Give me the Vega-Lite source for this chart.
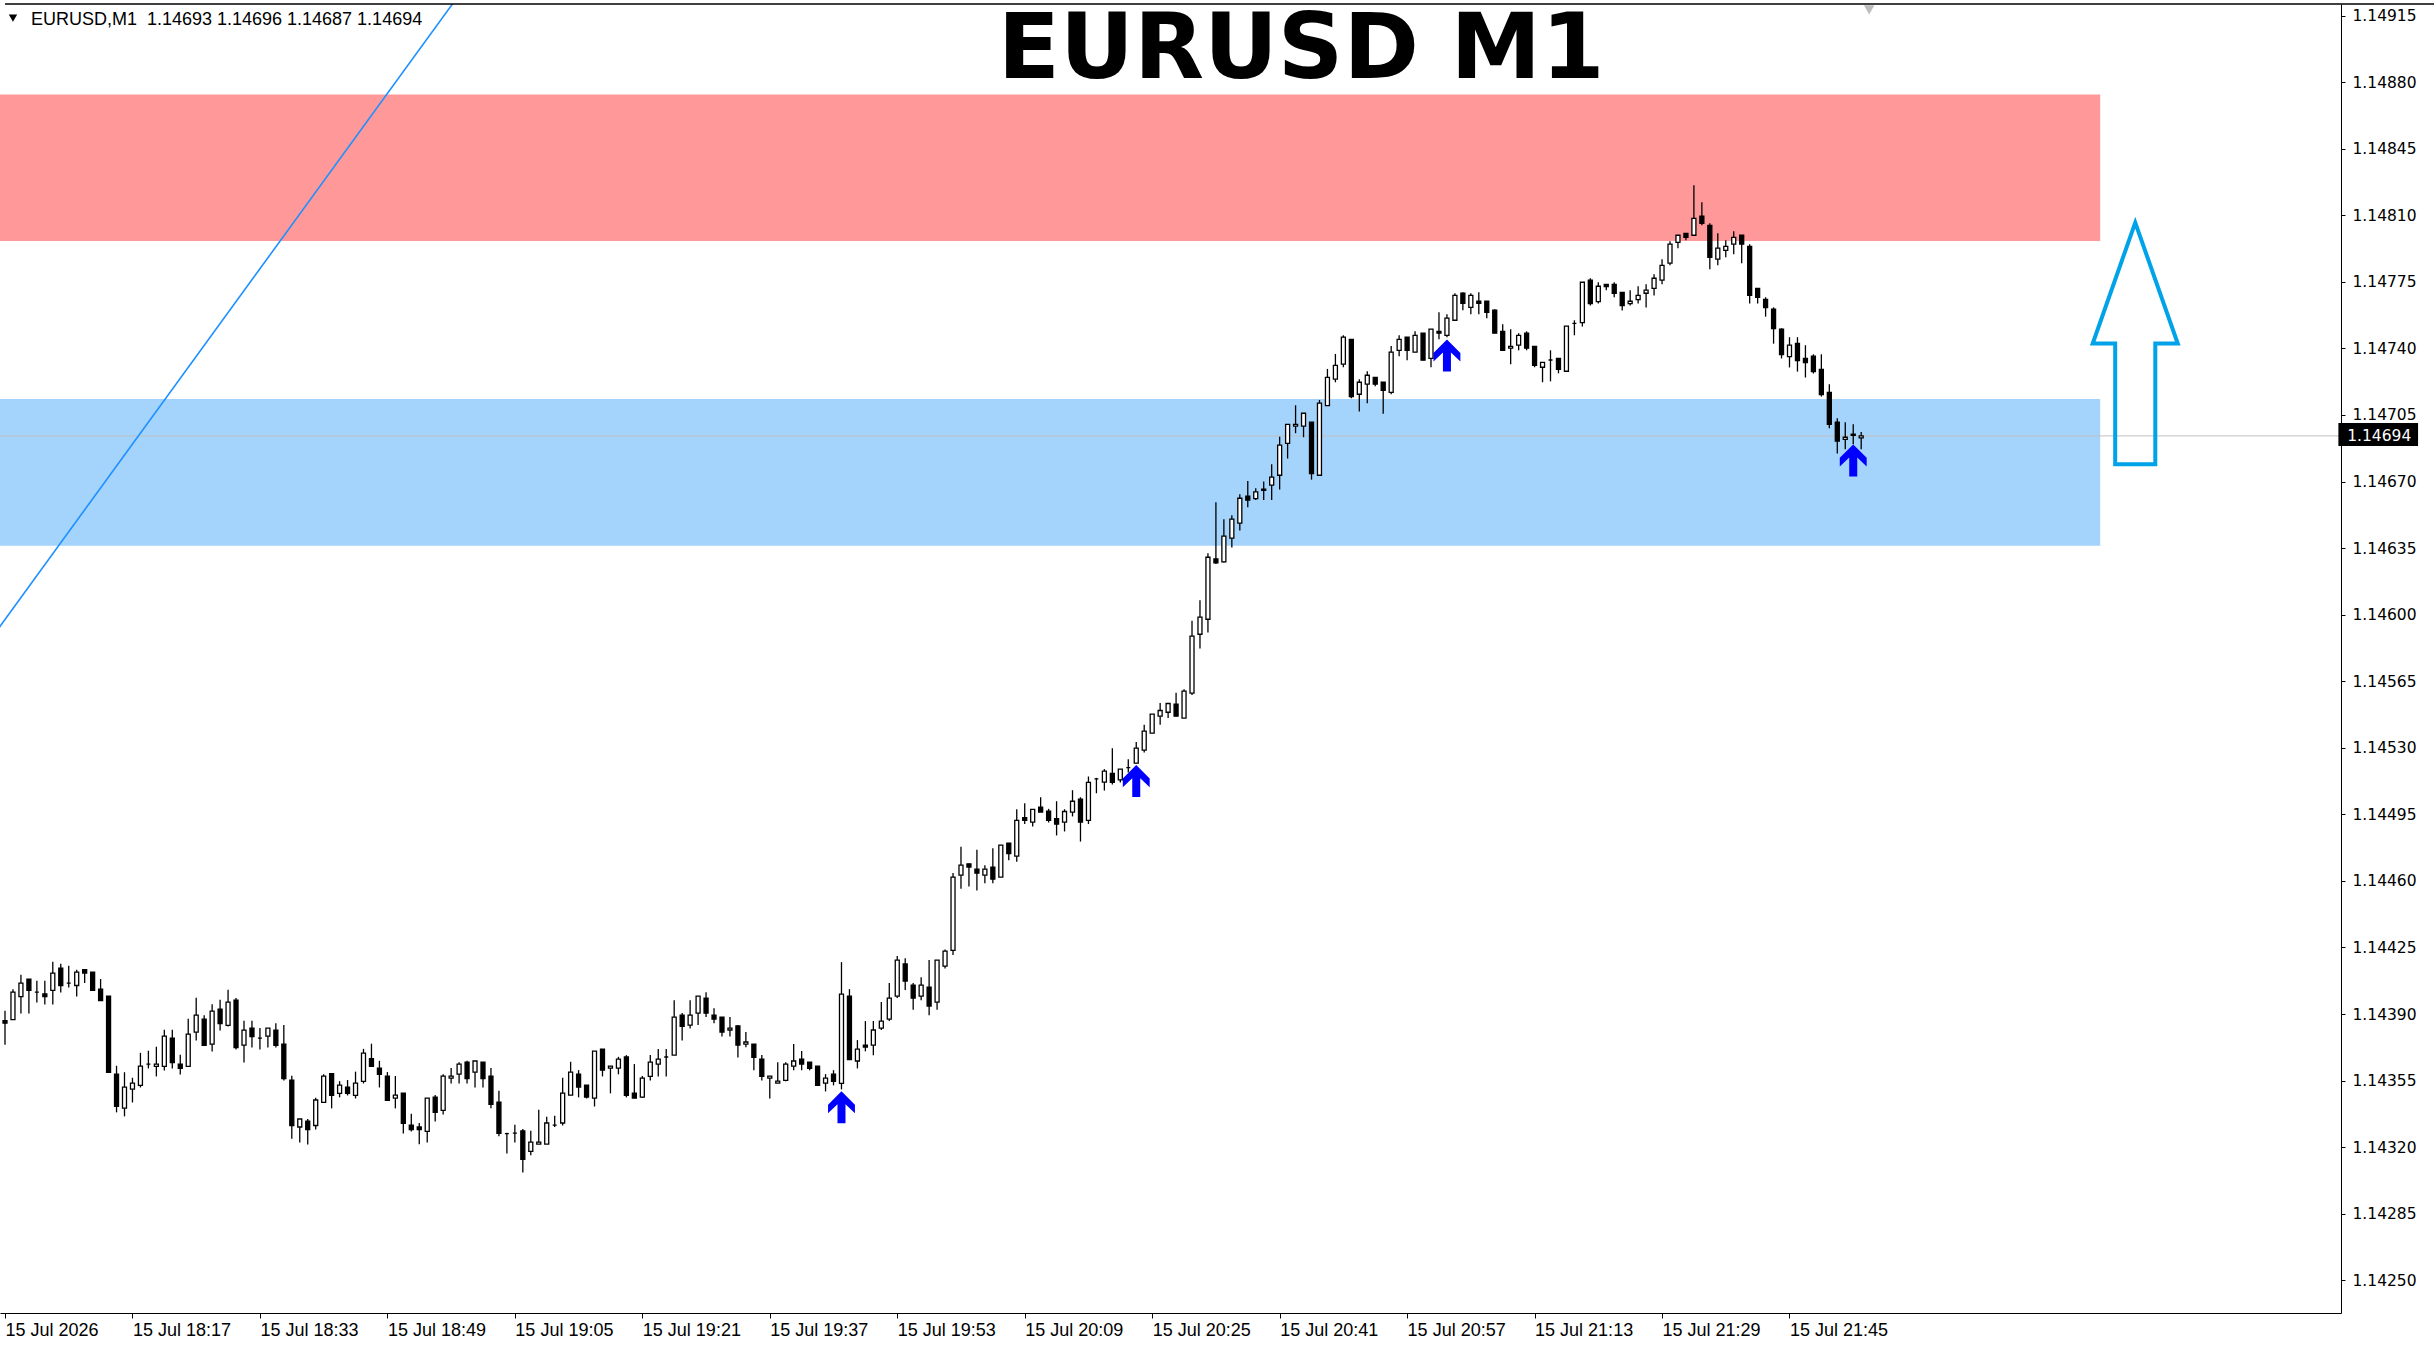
{
  "$schema": "https://vega.github.io/schema/vega-lite/v6.json",
  "width": 2341,
  "height": 1309,
  "autosize": "none",
  "padding": {"left": 0, "top": 4, "right": 93, "bottom": 33},
  "background": "white",
  "datasets": {
    "zones": [
      {"zone": "supply", "t1": 1070, "t2": 1344, "p1": 1.147965, "p2": 1.148735},
      {"zone": "demand", "t1": 1070, "t2": 1344, "p1": 1.146363, "p2": 1.147134}
    ],
    "lastprice": [{"p": 1.14694}],
    "trend": [
      {"t": 1076, "p": 1.145687},
      {"t": 1141, "p": 1.149432}
    ],
    "signals": [
      {"t": 1186, "p": 1.14341},
      {"t": 1223, "p": 1.145125},
      {"t": 1262, "p": 1.147363},
      {"t": 1313, "p": 1.146811}
    ],
    "target": [{"t": 1348.4, "p": 1.147426}],
    "tag": [{"t1": 1373.9, "t2": 1383.9, "p1": 1.146887, "p2": 1.147008, "tx": 1375, "p": 1.14694, "label": "1.14694"}],
    "info": [{"t": 1084.25, "p": 1.149127, "label": "EURUSD,M1\u00a0 1.14693 1.14696 1.14687 1.14694"}],
    "heading": [{"t": 1243.7, "p": 1.148822, "label": "EURUSD M1"}],
    "menu": [{"t": 1082, "p": 1.149137}],
    "shift": [{"t": 1315, "p": 1.14918}],
    "candles": [
      {"t":1081,"o":1.143865,"h":1.143917,"l":1.143738,"c":1.143852},
      {"t":1082,"o":1.143871,"h":1.144031,"l":1.143871,"c":1.144015},
      {"t":1083,"o":1.143992,"h":1.144106,"l":1.143903,"c":1.144063},
      {"t":1084,"o":1.144084,"h":1.144084,"l":1.143903,"c":1.144024},
      {"t":1085,"o":1.144015,"h":1.144075,"l":1.143961,"c":1.144015},
      {"t":1086,"o":1.144006,"h":1.144075,"l":1.14395,"c":1.143992},
      {"t":1087,"o":1.144024,"h":1.144175,"l":1.14395,"c":1.144115},
      {"t":1088,"o":1.144141,"h":1.144164,"l":1.144013,"c":1.14405},
      {"t":1089,"o":1.144063,"h":1.144154,"l":1.14404,"c":1.144063},
      {"t":1090,"o":1.14405,"h":1.144133,"l":1.143992,"c":1.14412},
      {"t":1091,"o":1.144133,"h":1.144133,"l":1.144063,"c":1.144115},
      {"t":1092,"o":1.14412,"h":1.14412,"l":1.144024,"c":1.144024},
      {"t":1093,"o":1.144031,"h":1.144084,"l":1.143971,"c":1.143971},
      {"t":1094,"o":1.143994,"h":1.143994,"l":1.143593,"c":1.143593},
      {"t":1095,"o":1.143584,"h":1.143628,"l":1.143383,"c":1.143414},
      {"t":1096,"o":1.143405,"h":1.143594,"l":1.143362,"c":1.143516},
      {"t":1097,"o":1.143505,"h":1.143565,"l":1.143435,"c":1.143537},
      {"t":1098,"o":1.143525,"h":1.143696,"l":1.143514,"c":1.143626},
      {"t":1099,"o":1.143637,"h":1.143707,"l":1.143614,"c":1.143637},
      {"t":1100,"o":1.143625,"h":1.143728,"l":1.143572,"c":1.143637},
      {"t":1101,"o":1.143625,"h":1.143817,"l":1.143603,"c":1.143784},
      {"t":1102,"o":1.143773,"h":1.143817,"l":1.143614,"c":1.143645},
      {"t":1103,"o":1.143637,"h":1.143686,"l":1.143582,"c":1.143614},
      {"t":1104,"o":1.143625,"h":1.143875,"l":1.143625,"c":1.143794},
      {"t":1105,"o":1.143805,"h":1.143985,"l":1.143761,"c":1.143894},
      {"t":1106,"o":1.143873,"h":1.143894,"l":1.143735,"c":1.143735},
      {"t":1107,"o":1.143742,"h":1.143952,"l":1.143703,"c":1.143915},
      {"t":1108,"o":1.143926,"h":1.143975,"l":1.143814,"c":1.14385},
      {"t":1109,"o":1.14384,"h":1.144028,"l":1.143835,"c":1.143963},
      {"t":1110,"o":1.143973,"h":1.143984,"l":1.143714,"c":1.143724},
      {"t":1111,"o":1.143737,"h":1.143865,"l":1.143645,"c":1.143815},
      {"t":1112,"o":1.143826,"h":1.143865,"l":1.143724,"c":1.143782},
      {"t":1113,"o":1.143773,"h":1.143826,"l":1.143714,"c":1.143773},
      {"t":1114,"o":1.143784,"h":1.143826,"l":1.143724,"c":1.143826},
      {"t":1115,"o":1.143815,"h":1.143852,"l":1.143724,"c":1.143735},
      {"t":1116,"o":1.143742,"h":1.143842,"l":1.143551,"c":1.143561},
      {"t":1117,"o":1.143553,"h":1.143575,"l":1.143244,"c":1.143314},
      {"t":1118,"o":1.143306,"h":1.143348,"l":1.143225,"c":1.143348},
      {"t":1119,"o":1.143337,"h":1.143348,"l":1.143214,"c":1.143293},
      {"t":1120,"o":1.143314,"h":1.14346,"l":1.143293,"c":1.143448},
      {"t":1121,"o":1.143435,"h":1.143584,"l":1.143435,"c":1.143574},
      {"t":1122,"o":1.143586,"h":1.143586,"l":1.143404,"c":1.143472},
      {"t":1123,"o":1.143483,"h":1.143547,"l":1.143462,"c":1.143526},
      {"t":1124,"o":1.143516,"h":1.143553,"l":1.143472,"c":1.143483},
      {"t":1125,"o":1.143472,"h":1.143597,"l":1.143456,"c":1.143537},
      {"t":1126,"o":1.143546,"h":1.143717,"l":1.143535,"c":1.143695},
      {"t":1127,"o":1.143665,"h":1.143744,"l":1.143625,"c":1.143625},
      {"t":1128,"o":1.143616,"h":1.143654,"l":1.143514,"c":1.143583},
      {"t":1129,"o":1.143574,"h":1.143595,"l":1.143446,"c":1.143446},
      {"t":1130,"o":1.143458,"h":1.143574,"l":1.143404,"c":1.143474},
      {"t":1131,"o":1.143484,"h":1.143484,"l":1.143272,"c":1.143325},
      {"t":1132,"o":1.143316,"h":1.143376,"l":1.143283,"c":1.143293},
      {"t":1133,"o":1.143306,"h":1.143327,"l":1.143215,"c":1.143293},
      {"t":1134,"o":1.143283,"h":1.143458,"l":1.143225,"c":1.143458},
      {"t":1135,"o":1.143463,"h":1.143474,"l":1.143335,"c":1.143383},
      {"t":1136,"o":1.143393,"h":1.143584,"l":1.143372,"c":1.143574},
      {"t":1137,"o":1.143563,"h":1.143616,"l":1.143535,"c":1.143574},
      {"t":1138,"o":1.143584,"h":1.143647,"l":1.143535,"c":1.143637},
      {"t":1139,"o":1.143647,"h":1.143654,"l":1.143535,"c":1.143561},
      {"t":1140,"o":1.143595,"h":1.143653,"l":1.143514,"c":1.143653},
      {"t":1141,"o":1.143647,"h":1.143647,"l":1.143514,"c":1.143561},
      {"t":1142,"o":1.143574,"h":1.143616,"l":1.143404,"c":1.143425},
      {"t":1143,"o":1.143437,"h":1.143497,"l":1.143257,"c":1.143272},
      {"t":1144,"o":1.143271,"h":1.143276,"l":1.143167,"c":1.143271},
      {"t":1145,"o":1.143274,"h":1.143318,"l":1.143225,"c":1.143274},
      {"t":1146,"o":1.143285,"h":1.143295,"l":1.143067,"c":1.143136},
      {"t":1147,"o":1.143178,"h":1.143286,"l":1.143157,"c":1.143227},
      {"t":1148,"o":1.143216,"h":1.143397,"l":1.143216,"c":1.143227},
      {"t":1149,"o":1.143216,"h":1.14336,"l":1.143216,"c":1.143327},
      {"t":1150,"o":1.143316,"h":1.143365,"l":1.143306,"c":1.143316},
      {"t":1151,"o":1.143327,"h":1.143565,"l":1.143314,"c":1.143484},
      {"t":1152,"o":1.143474,"h":1.143649,"l":1.143474,"c":1.143595},
      {"t":1153,"o":1.143584,"h":1.143605,"l":1.143462,"c":1.143516},
      {"t":1154,"o":1.143526,"h":1.143526,"l":1.143456,"c":1.143463},
      {"t":1155,"o":1.143458,"h":1.143705,"l":1.143414,"c":1.143705},
      {"t":1156,"o":1.143716,"h":1.143716,"l":1.143572,"c":1.143605},
      {"t":1157,"o":1.143616,"h":1.143626,"l":1.143483,"c":1.143626},
      {"t":1158,"o":1.143616,"h":1.143675,"l":1.143583,"c":1.143663},
      {"t":1159,"o":1.143674,"h":1.143684,"l":1.143462,"c":1.143472},
      {"t":1160,"o":1.143484,"h":1.143637,"l":1.143458,"c":1.143458},
      {"t":1161,"o":1.143463,"h":1.143574,"l":1.143458,"c":1.143563},
      {"t":1162,"o":1.143572,"h":1.143684,"l":1.143551,"c":1.143647},
      {"t":1163,"o":1.143637,"h":1.143716,"l":1.143572,"c":1.143663},
      {"t":1164,"o":1.143674,"h":1.143716,"l":1.143572,"c":1.143674},
      {"t":1165,"o":1.143684,"h":1.143973,"l":1.143684,"c":1.143884},
      {"t":1166,"o":1.143894,"h":1.143905,"l":1.143761,"c":1.143835},
      {"t":1167,"o":1.143842,"h":1.143973,"l":1.143824,"c":1.143894},
      {"t":1168,"o":1.143905,"h":1.143994,"l":1.143842,"c":1.143994},
      {"t":1169,"o":1.143984,"h":1.144015,"l":1.143884,"c":1.143905},
      {"t":1170,"o":1.143894,"h":1.143931,"l":1.143852,"c":1.143873},
      {"t":1171,"o":1.143884,"h":1.143884,"l":1.143782,"c":1.143805},
      {"t":1172,"o":1.143816,"h":1.143884,"l":1.143782,"c":1.143826},
      {"t":1173,"o":1.143837,"h":1.143842,"l":1.143672,"c":1.143737},
      {"t":1174,"o":1.143742,"h":1.143805,"l":1.143726,"c":1.143753},
      {"t":1175,"o":1.143742,"h":1.143742,"l":1.143604,"c":1.143672},
      {"t":1176,"o":1.143663,"h":1.143684,"l":1.143551,"c":1.143572},
      {"t":1177,"o":1.143563,"h":1.143574,"l":1.143456,"c":1.143574},
      {"t":1178,"o":1.143537,"h":1.143647,"l":1.143537,"c":1.143547},
      {"t":1179,"o":1.143551,"h":1.143647,"l":1.143546,"c":1.143637},
      {"t":1180,"o":1.143626,"h":1.143742,"l":1.143604,"c":1.143653},
      {"t":1181,"o":1.143663,"h":1.143705,"l":1.143604,"c":1.143637},
      {"t":1182,"o":1.143647,"h":1.143647,"l":1.143604,"c":1.143614},
      {"t":1183,"o":1.143626,"h":1.143626,"l":1.143525,"c":1.143525},
      {"t":1184,"o":1.143537,"h":1.143584,"l":1.143493,"c":1.143563},
      {"t":1185,"o":1.143584,"h":1.143605,"l":1.143525,"c":1.143546},
      {"t":1186,"o":1.143535,"h":1.144173,"l":1.143504,"c":1.144005},
      {"t":1187,"o":1.143994,"h":1.144031,"l":1.143661,"c":1.143661},
      {"t":1188,"o":1.143653,"h":1.143763,"l":1.143614,"c":1.143716},
      {"t":1189,"o":1.143737,"h":1.143863,"l":1.143704,"c":1.143726},
      {"t":1190,"o":1.143737,"h":1.143863,"l":1.143683,"c":1.143816},
      {"t":1191,"o":1.143826,"h":1.143963,"l":1.143816,"c":1.143863},
      {"t":1192,"o":1.143873,"h":1.144063,"l":1.143863,"c":1.143984},
      {"t":1193,"o":1.143994,"h":1.144205,"l":1.143984,"c":1.144184},
      {"t":1194,"o":1.144163,"h":1.144194,"l":1.144026,"c":1.144073},
      {"t":1195,"o":1.144052,"h":1.144063,"l":1.143923,"c":1.143984},
      {"t":1196,"o":1.143994,"h":1.144094,"l":1.143973,"c":1.144052},
      {"t":1197,"o":1.144042,"h":1.144184,"l":1.143894,"c":1.143942},
      {"t":1198,"o":1.143963,"h":1.144184,"l":1.143923,"c":1.144184},
      {"t":1199,"o":1.144152,"h":1.14424,"l":1.14414,"c":1.144231},
      {"t":1200,"o":1.144235,"h":1.144641,"l":1.14421,"c":1.14462},
      {"t":1201,"o":1.14463,"h":1.144779,"l":1.144559,"c":1.144683},
      {"t":1202,"o":1.14469,"h":1.14469,"l":1.144571,"c":1.144673},
      {"t":1203,"o":1.144662,"h":1.144764,"l":1.14455,"c":1.144641},
      {"t":1204,"o":1.14463,"h":1.144683,"l":1.144588,"c":1.144662},
      {"t":1205,"o":1.144673,"h":1.144772,"l":1.144588,"c":1.144609},
      {"t":1206,"o":1.14462,"h":1.144788,"l":1.14462,"c":1.144788},
      {"t":1207,"o":1.144798,"h":1.144798,"l":1.144708,"c":1.144743},
      {"t":1208,"o":1.14473,"h":1.144977,"l":1.144701,"c":1.144918},
      {"t":1209,"o":1.144932,"h":1.145009,"l":1.144899,"c":1.144918},
      {"t":1210,"o":1.144909,"h":1.144976,"l":1.144886,"c":1.144976},
      {"t":1211,"o":1.144988,"h":1.14504,"l":1.144962,"c":1.144962},
      {"t":1212,"o":1.144967,"h":1.144979,"l":1.144907,"c":1.144918},
      {"t":1213,"o":1.144928,"h":1.145019,"l":1.144839,"c":1.144899},
      {"t":1214,"o":1.144909,"h":1.144977,"l":1.14486,"c":1.144965},
      {"t":1215,"o":1.144962,"h":1.145077,"l":1.144939,"c":1.145019},
      {"t":1216,"o":1.14503,"h":1.14504,"l":1.144807,"c":1.144909},
      {"t":1217,"o":1.144918,"h":1.145149,"l":1.144899,"c":1.145118},
      {"t":1218,"o":1.145137,"h":1.145142,"l":1.145061,"c":1.145137},
      {"t":1219,"o":1.145119,"h":1.145188,"l":1.145075,"c":1.145177},
      {"t":1220,"o":1.145165,"h":1.145298,"l":1.145107,"c":1.145118},
      {"t":1221,"o":1.145131,"h":1.145188,"l":1.145118,"c":1.145188},
      {"t":1222,"o":1.145196,"h":1.14524,"l":1.14517,"c":1.145196},
      {"t":1223,"o":1.145219,"h":1.145331,"l":1.145219,"c":1.145298},
      {"t":1224,"o":1.145288,"h":1.145421,"l":1.145275,"c":1.145388},
      {"t":1225,"o":1.145377,"h":1.145477,"l":1.145377,"c":1.145477},
      {"t":1226,"o":1.145466,"h":1.145535,"l":1.145421,"c":1.145496},
      {"t":1227,"o":1.145487,"h":1.145533,"l":1.145456,"c":1.145533},
      {"t":1228,"o":1.145529,"h":1.145589,"l":1.145466,"c":1.145466},
      {"t":1229,"o":1.145456,"h":1.145608,"l":1.145456,"c":1.145598},
      {"t":1230,"o":1.145587,"h":1.145968,"l":1.145577,"c":1.145887},
      {"t":1231,"o":1.145897,"h":1.146076,"l":1.145822,"c":1.145987},
      {"t":1232,"o":1.145976,"h":1.146323,"l":1.145906,"c":1.146302},
      {"t":1233,"o":1.146293,"h":1.146591,"l":1.146267,"c":1.146272},
      {"t":1234,"o":1.146278,"h":1.146502,"l":1.146274,"c":1.146413},
      {"t":1235,"o":1.146402,"h":1.146523,"l":1.146353,"c":1.146502},
      {"t":1236,"o":1.146481,"h":1.146633,"l":1.146442,"c":1.146612},
      {"t":1237,"o":1.146623,"h":1.146703,"l":1.146565,"c":1.146602},
      {"t":1238,"o":1.14661,"h":1.146665,"l":1.146603,"c":1.146646},
      {"t":1239,"o":1.14666,"h":1.1467,"l":1.146603,"c":1.146654},
      {"t":1240,"o":1.146681,"h":1.146791,"l":1.146603,"c":1.146723},
      {"t":1241,"o":1.146733,"h":1.146936,"l":1.146658,"c":1.146891},
      {"t":1242,"o":1.146901,"h":1.147001,"l":1.146821,"c":1.147001},
      {"t":1243,"o":1.146991,"h":1.147101,"l":1.146954,"c":1.147001},
      {"t":1244,"o":1.146991,"h":1.147059,"l":1.146933,"c":1.147059},
      {"t":1245,"o":1.147012,"h":1.147012,"l":1.14671,"c":1.146742},
      {"t":1246,"o":1.146733,"h":1.147129,"l":1.146733,"c":1.147112},
      {"t":1247,"o":1.147099,"h":1.147292,"l":1.147099,"c":1.147248},
      {"t":1248,"o":1.147238,"h":1.147371,"l":1.147222,"c":1.147311},
      {"t":1249,"o":1.147317,"h":1.147469,"l":1.147301,"c":1.147459},
      {"t":1250,"o":1.147448,"h":1.147448,"l":1.147138,"c":1.147147},
      {"t":1251,"o":1.147159,"h":1.147238,"l":1.147068,"c":1.147222},
      {"t":1252,"o":1.147212,"h":1.14728,"l":1.147112,"c":1.147259},
      {"t":1253,"o":1.147248,"h":1.147248,"l":1.147201,"c":1.147212},
      {"t":1254,"o":1.147222,"h":1.147222,"l":1.147057,"c":1.14718},
      {"t":1255,"o":1.147169,"h":1.147413,"l":1.147159,"c":1.14738},
      {"t":1256,"o":1.14739,"h":1.147469,"l":1.147359,"c":1.147448},
      {"t":1257,"o":1.147459,"h":1.147459,"l":1.147338,"c":1.14739},
      {"t":1258,"o":1.14738,"h":1.14749,"l":1.14738,"c":1.147469},
      {"t":1259,"o":1.14748,"h":1.14748,"l":1.147338,"c":1.147338},
      {"t":1260,"o":1.147348,"h":1.147501,"l":1.147301,"c":1.147501},
      {"t":1261,"o":1.14749,"h":1.14759,"l":1.147448,"c":1.14748},
      {"t":1262,"o":1.147469,"h":1.14758,"l":1.147459,"c":1.147559},
      {"t":1263,"o":1.147548,"h":1.14769,"l":1.147548,"c":1.147679},
      {"t":1264,"o":1.14769,"h":1.147695,"l":1.147601,"c":1.147637},
      {"t":1265,"o":1.147616,"h":1.14769,"l":1.14758,"c":1.147679},
      {"t":1266,"o":1.147648,"h":1.147695,"l":1.14758,"c":1.147637},
      {"t":1267,"o":1.147648,"h":1.147648,"l":1.147559,"c":1.14759},
      {"t":1268,"o":1.147601,"h":1.147606,"l":1.14748,"c":1.14748},
      {"t":1269,"o":1.14749,"h":1.147527,"l":1.14739,"c":1.14739},
      {"t":1270,"o":1.147401,"h":1.147501,"l":1.147317,"c":1.147411},
      {"t":1271,"o":1.147417,"h":1.14748,"l":1.14739,"c":1.147469},
      {"t":1272,"o":1.14748,"h":1.14749,"l":1.14739,"c":1.147401},
      {"t":1273,"o":1.147411,"h":1.147411,"l":1.147301,"c":1.147311},
      {"t":1274,"o":1.147301,"h":1.147327,"l":1.147222,"c":1.147327},
      {"t":1275,"o":1.147339,"h":1.14739,"l":1.147227,"c":1.147339},
      {"t":1276,"o":1.147348,"h":1.147348,"l":1.147269,"c":1.14729},
      {"t":1277,"o":1.14728,"h":1.147517,"l":1.14728,"c":1.147517},
      {"t":1278,"o":1.147532,"h":1.147548,"l":1.147469,"c":1.147532},
      {"t":1279,"o":1.147536,"h":1.147748,"l":1.147515,"c":1.147748},
      {"t":1280,"o":1.147759,"h":1.147769,"l":1.147625,"c":1.147636},
      {"t":1281,"o":1.147646,"h":1.147748,"l":1.147636,"c":1.147727},
      {"t":1282,"o":1.147737,"h":1.147737,"l":1.147706,"c":1.147725},
      {"t":1283,"o":1.147737,"h":1.147748,"l":1.147669,"c":1.14769},
      {"t":1284,"o":1.147695,"h":1.147695,"l":1.147599,"c":1.147625},
      {"t":1285,"o":1.147636,"h":1.147706,"l":1.147625,"c":1.147648},
      {"t":1286,"o":1.147657,"h":1.147727,"l":1.147636,"c":1.147679},
      {"t":1287,"o":1.14769,"h":1.147737,"l":1.147615,"c":1.147706},
      {"t":1288,"o":1.147716,"h":1.14779,"l":1.147678,"c":1.147769},
      {"t":1289,"o":1.147759,"h":1.147869,"l":1.147737,"c":1.147837},
      {"t":1290,"o":1.147848,"h":1.147963,"l":1.147837,"c":1.147948},
      {"t":1291,"o":1.147958,"h":1.147995,"l":1.147927,"c":1.147995},
      {"t":1292,"o":1.148005,"h":1.148005,"l":1.147969,"c":1.147984},
      {"t":1293,"o":1.147995,"h":1.148258,"l":1.147995,"c":1.148084},
      {"t":1294,"o":1.148095,"h":1.148168,"l":1.148047,"c":1.148058},
      {"t":1295,"o":1.148047,"h":1.148058,"l":1.147816,"c":1.147879},
      {"t":1296,"o":1.147869,"h":1.148005,"l":1.147837,"c":1.147927},
      {"t":1297,"o":1.147916,"h":1.147969,"l":1.147879,"c":1.147937},
      {"t":1298,"o":1.147948,"h":1.148016,"l":1.147895,"c":1.147984},
      {"t":1299,"o":1.147995,"h":1.147995,"l":1.147848,"c":1.147948},
      {"t":1300,"o":1.147937,"h":1.147948,"l":1.147636,"c":1.147679},
      {"t":1301,"o":1.147716,"h":1.147716,"l":1.147636,"c":1.147669},
      {"t":1302,"o":1.147658,"h":1.147669,"l":1.147567,"c":1.147615},
      {"t":1303,"o":1.147606,"h":1.147616,"l":1.147425,"c":1.147504},
      {"t":1304,"o":1.147501,"h":1.147506,"l":1.147347,"c":1.147367},
      {"t":1305,"o":1.147357,"h":1.147459,"l":1.1473,"c":1.147417},
      {"t":1306,"o":1.147427,"h":1.147459,"l":1.147278,"c":1.147336},
      {"t":1307,"o":1.147348,"h":1.147417,"l":1.147247,"c":1.147326},
      {"t":1308,"o":1.147359,"h":1.147369,"l":1.147268,"c":1.147278},
      {"t":1309,"o":1.14729,"h":1.147369,"l":1.147147,"c":1.147157},
      {"t":1310,"o":1.147169,"h":1.147212,"l":1.14698,"c":1.147001},
      {"t":1311,"o":1.147012,"h":1.147033,"l":1.146847,"c":1.146912},
      {"t":1312,"o":1.146922,"h":1.147012,"l":1.14687,"c":1.146933},
      {"t":1313,"o":1.146949,"h":1.147001,"l":1.146896,"c":1.146943},
      {"t":1314,"o":1.14693,"h":1.14696,"l":1.14687,"c":1.14694}
    ]
  },
  "layer": [
    {
      "data": {"name": "zones"},
      "mark": {"type": "rect"},
      "encoding": {
        "x": {
          "field": "t1",
          "type": "quantitative",
          "title": null,
          "scale": {"domain": [1081, 1373.6], "nice": false, "zero": false},
          "axis": {
            "values": [1081, 1097, 1113, 1129, 1145, 1161, 1177, 1193, 1209, 1225, 1241, 1257, 1273, 1289, 1305],
            "labelExpr": "datum.value == 1081 ? '15 Jul 2026' : '15 Jul ' + floor(datum.value / 60) + ':' + (datum.value % 60 < 10 ? '0' : '') + (datum.value % 60)",
            "labelAlign": "left",
            "labelFont": "Liberation Sans",
            "labelFontSize": 18,
            "labelColor": "black",
            "labelPadding": 3,
            "labelFlush": false,
            "labelOverlap": false,
            "labelBound": false,
            "tickSize": 5,
            "tickColor": "black",
            "domainColor": "black",
            "grid": false,
            "title": null
          }
        },
        "x2": {"field": "t2"},
        "y": {
          "field": "p1",
          "type": "quantitative",
          "title": null,
          "scale": {"domain": [1.142328, 1.149211], "nice": false, "zero": false},
          "axis": {
            "orient": "right",
            "values": [1.1425, 1.14285, 1.1432, 1.14355, 1.1439, 1.14425, 1.1446, 1.14495, 1.1453, 1.14565, 1.146, 1.14635, 1.1467, 1.14705, 1.1474, 1.14775, 1.1481, 1.14845, 1.1488, 1.14915],
            "format": ".5f",
            "labelFont": "DejaVu Sans",
            "labelFontSize": 15.5,
            "labelColor": "black",
            "labelPadding": 7,
            "labelBaseline": "middle",
            "labelFlush": false,
            "labelOverlap": false,
            "tickSize": 4,
            "tickColor": "black",
            "domainColor": "black",
            "grid": false,
            "title": null
          }
        },
        "y2": {"field": "p2"},
        "color": {
          "field": "zone",
          "type": "nominal",
          "scale": {"domain": ["supply", "demand"], "range": ["#FF9999", "#A4D3FC"]},
          "legend": null
        }
      }
    },
    {
      "data": {"name": "lastprice"},
      "mark": {"type": "rule", "color": "#C0C0C0", "strokeWidth": 1},
      "encoding": {
        "y": {"field": "p", "type": "quantitative", "title": null}
      }
    },
    {
      "data": {"name": "trend"},
      "mark": {"type": "line", "color": "#1E90FF", "strokeWidth": 1.6, "clip": true},
      "encoding": {
        "x": {"field": "t", "type": "quantitative", "title": null},
        "y": {"field": "p", "type": "quantitative", "title": null}
      }
    },
    {
      "data": {"name": "lastprice"},
      "mark": {"type": "rule", "color": "black", "strokeWidth": 1.5},
      "encoding": {
        "x": {"datum": 1081, "title": null},
        "x2": {"datum": 1390},
        "y": {"datum": 1.149211, "title": null}
      }
    },
    {
      "data": {"name": "candles"},
      "mark": {"type": "rule", "color": "black", "strokeWidth": 1.3},
      "encoding": {
        "x": {"field": "t", "type": "quantitative", "title": null},
        "y": {"field": "l", "type": "quantitative", "title": null},
        "y2": {"field": "h"}
      }
    },
    {
      "data": {"name": "candles"},
      "mark": {"type": "bar", "width": 4, "stroke": "black", "strokeWidth": 1.3},
      "encoding": {
        "x": {"field": "t", "type": "quantitative", "title": null},
        "y": {"field": "o", "type": "quantitative", "title": null},
        "y2": {"field": "c"},
        "fill": {"condition": {"test": "datum.c >= datum.o", "value": "white"}, "value": "black"}
      }
    },
    {
      "data": {"name": "signals"},
      "mark": {
        "type": "point",
        "shape": "M0,-1L0.84,-0.16L0.84,0.38L0.25,-0.18L0.25,1L-0.25,1L-0.25,-0.18L-0.84,0.38L-0.84,-0.16Z",
        "filled": true,
        "color": "#0000FF",
        "size": 1024,
        "opacity": 1
      },
      "encoding": {
        "x": {"field": "t", "type": "quantitative", "title": null},
        "y": {"field": "p", "type": "quantitative", "title": null}
      }
    },
    {
      "data": {"name": "target"},
      "mark": {
        "type": "point",
        "shape": "M0,-1L0.352,0L0.166,0L0.166,1L-0.166,1L-0.166,0L-0.352,0Z",
        "filled": false,
        "stroke": "#00A2E8",
        "strokeWidth": 4,
        "strokeJoin": "miter",
        "size": 58371,
        "opacity": 1
      },
      "encoding": {
        "x": {"field": "t", "type": "quantitative", "title": null},
        "y": {"field": "p", "type": "quantitative", "title": null}
      }
    },
    {
      "data": {"name": "tag"},
      "mark": {"type": "rect", "color": "black"},
      "encoding": {
        "x": {"field": "t1", "type": "quantitative", "title": null},
        "x2": {"field": "t2"},
        "y": {"field": "p1", "type": "quantitative", "title": null},
        "y2": {"field": "p2"}
      }
    },
    {
      "data": {"name": "tag"},
      "mark": {"type": "text", "align": "left", "baseline": "middle", "font": "DejaVu Sans", "fontSize": 15.5, "color": "white"},
      "encoding": {
        "x": {"field": "tx", "type": "quantitative", "title": null},
        "y": {"field": "p", "type": "quantitative", "title": null},
        "text": {"field": "label"}
      }
    },
    {
      "data": {"name": "info"},
      "mark": {"type": "text", "align": "left", "baseline": "middle", "font": "Liberation Sans", "fontSize": 18, "color": "black"},
      "encoding": {
        "x": {"field": "t", "type": "quantitative", "title": null},
        "y": {"field": "p", "type": "quantitative", "title": null},
        "text": {"field": "label"}
      }
    },
    {
      "data": {"name": "heading"},
      "mark": {"type": "text", "align": "center", "baseline": "alphabetic", "font": "DejaVu Sans", "fontSize": 91, "fontWeight": "bold", "color": "black"},
      "encoding": {
        "x": {"field": "t", "type": "quantitative", "title": null},
        "y": {"field": "p", "type": "quantitative", "title": null},
        "text": {"field": "label"}
      }
    },
    {
      "data": {"name": "menu"},
      "mark": {"type": "point", "shape": "triangle-down", "filled": true, "color": "black", "size": 70, "opacity": 1},
      "encoding": {
        "x": {"field": "t", "type": "quantitative", "title": null},
        "y": {"field": "p", "type": "quantitative", "title": null}
      }
    },
    {
      "data": {"name": "shift"},
      "mark": {"type": "point", "shape": "triangle-down", "filled": true, "color": "#BDBDBD", "size": 110, "opacity": 1},
      "encoding": {
        "x": {"field": "t", "type": "quantitative", "title": null},
        "y": {"field": "p", "type": "quantitative", "title": null}
      }
    }
  ],
  "config": {
    "view": {"stroke": null},
    "axis": {"grid": false}
  }
}
